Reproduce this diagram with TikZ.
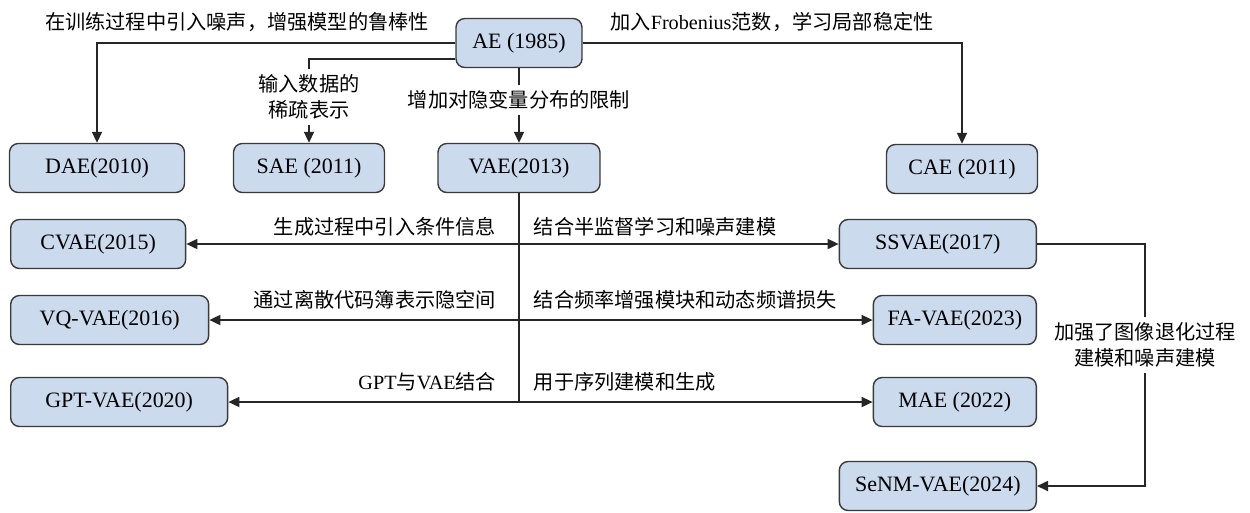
\documentclass[tikz,border=0pt]{standalone}
\usepackage{fontspec}
\setmainfont{Liberation Serif}
\newfontfamily\cjk{Noto Sans CJK SC}
\usepackage{xcolor}
\definecolor{cBox}{HTML}{CCDAEE}
\definecolor{cEdge}{HTML}{3A3A3A}
\definecolor{cLine}{HTML}{262626}
\usetikzlibrary{positioning,arrows.meta}
\tikzset{
  node-box/.style={draw=cEdge,line width=0.8pt,fill=cBox,rounded corners=5pt,
    minimum height=9.8mm,align=center,font=\fontsize{12.5}{15}\selectfont},
  node-note/.style={align=center,inner xsep=2pt,inner ysep=3pt,
    font=\cjk\fontsize{11.5}{15}\selectfont},
  link/.style={line width=1pt,draw=cLine},
  arrow/.style={link,-{Triangle[length=2.2mm,width=2mm]}},
}
\begin{document}
\begin{tikzpicture}[x=0.02cm,y=-0.02cm]
  \useasboundingbox (0,0) rectangle (1250,512);
  % root and first row
  \node[node-box,minimum width=2.52cm] (ae) at (519,43) {AE (1985)};
  \node[node-box,minimum width=3.5cm] (dae) at (97,168) {DAE(2010)};
  \node[node-box,minimum width=3.02cm] (sae) at (309,168) {SAE (2011)};
  \node[node-box,minimum width=3.24cm] (vae) at (519,168) {VAE(2013)};
  \node[node-box,minimum width=3.02cm] (cae) at (962,169) {CAE (2011)};
  % left column
  \node[node-box,minimum width=3.5cm,anchor=west] (cvae) at (10,244) {CVAE(2015)};
  \node[node-box,minimum width=3.96cm,anchor=west] (vqvae) at (10,320) {VQ-VAE(2016)};
  \node[node-box,minimum width=4.34cm,anchor=west] (gpt) at (10,402) {GPT-VAE(2020)};
  % right column
  \node[node-box,minimum width=3.94cm,anchor=east] (ssvae) at (1037,244) {SSVAE(2017)};
  \node[node-box,minimum width=3.26cm,anchor=east] (favae) at (1037,320) {FA-VAE(2023)};
  \node[node-box,minimum width=3.26cm,anchor=east] (mae) at (1037,402) {MAE (2022)};
  \node[node-box,minimum width=3.94cm,anchor=east] (senm) at (1037,486) {SeNM-VAE(2024)};

  % labels
  \node[node-note] (t-dae) at (237,22) {在训练过程中引入噪声，增强模型的鲁棒性};
  \node[node-note] (t-cae) at (772,22) {加入{\rmfamily Frobenius}范数，学习局部稳定性};
  \node[node-note] (t-sae) at (309,97) {输入数据的\\稀疏表示};
  \node[node-note] (t-vae) at (519,100) {增加对隐变量分布的限制};
  \node[node-note,anchor=east] (t-cvae) at (500,227) {生成过程中引入条件信息};
  \node[node-note,anchor=west] (t-ssvae) at (530,227) {结合半监督学习和噪声建模};
  \node[node-note,anchor=east] (t-vqvae) at (500,300) {通过离散代码簿表示隐空间};
  \node[node-note,anchor=west] (t-favae) at (530,300) {结合频率增强模块和动态频谱损失};
  \node[node-note,anchor=east] (t-gpt) at (500,382) {{\rmfamily GPT}与{\rmfamily VAE}结合};
  \node[node-note,anchor=west] (t-mae) at (530,382) {用于序列建模和生成};
  \node[node-note] (t-senm) at (1145,345) {加强了图像退化过程\\建模和噪声建模};

  % connectors
  \draw[arrow] (ae.west) -| (dae.north);
  \draw[arrow] (ae.east) -| (cae.north);
  \draw[link] ([yshift=0.18cm]ae.south west) -| (t-sae.north);
  \draw[arrow] (t-sae.south) -- (sae.north);
  \draw[link] (ae.south) -- (t-vae.north);
  \draw[arrow] (t-vae.south) -- (vae.north);
  \draw[link] (vae.south) -- (vae.south |- gpt.east);
  \foreach \l/\r in {cvae/ssvae,vqvae/favae,gpt/mae} {
    \draw[arrow] (vae.south |- \l.east) -- (\l.east);
    \draw[arrow] (vae.south |- \r.west) -- (\r.west);
  }
  \draw[link] (ssvae.east) -| (t-senm.north);
  \draw[arrow] (t-senm.south) |- (senm.east);
\end{tikzpicture}
\end{document}
